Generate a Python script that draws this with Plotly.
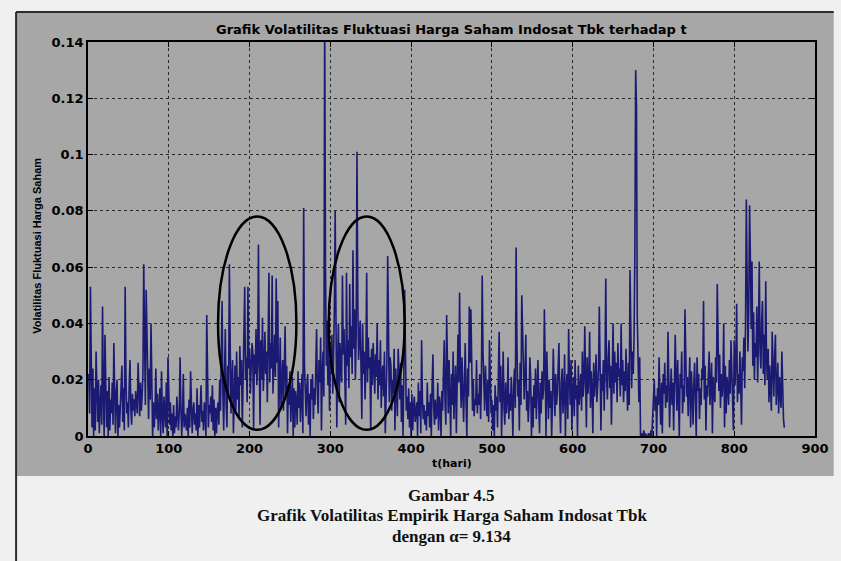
import plotly.graph_objects as go

# ---------------- data (volatility in units of 0.001) ----------------
vol_milli = [
    22, 8, 53, 12, 3, 24, 0, 17, 2, 30, 14, 5, 20, 1, 11, 18, 4, 46, 15, 0,
    36, 10, 3, 16, 0, 21, 2, 13, 8, 19, 4, 33, 12, 1, 15, 20, 0, 11, 3, 9,
    14, 25, 5, 17, 2, 53, 20, 8, 12, 3, 18, 27, 10, 4, 15, 9, 13, 7, 16, 10,
    8, 26, 12, 7, 19, 9, 14, 22, 61, 35, 11, 52, 30, 16, 6, 24, 13, 40, 18, 0,
    12, 3, 9, 24, 6, 15, 2, 11, 17, 0, 23, 8, 1, 14, 10, 3, 19, 0, 28, 9,
    4, 12, 2, 8, 0, 11, 1, 7, 3, 14, 6, 2, 9, 28, 10, 0, 7, 22, 3, 8,
    5, 2, 10, 0, 13, 3, 23, 7, 1, 9, 12, 4, 8, 2, 17, 0, 11, 3, 15, 18,
    5, 9, 2, 12, 7, 0, 43, 16, 3, 11, 8, 14, 5, 18, 2, 13, 0, 10, 1, 9,
    12, 4, 20, 9, 26, 48, 15, 2, 22, 38, 11, 3, 25, 14, 61, 30, 8, 19, 27, 1,
    16, 25, 9, 30, 13, 21, 6, 32, 18, 27, 3, 24, 35, 53, 20, 28, 12, 53, 24, 31,
    15, 26, 33, 30, 2, 29, 22, 38, 18, 25, 68, 27, 4, 34, 20, 42, 16, 25, 37, 22,
    30, 12, 28, 58, 19, 33, 24, 57, 15, 29, 36, 21, 56, 26, 48, 3, 31, 35, 10, 22,
    27, 9, 20, 39, 14, 25, 1, 18, 11, 23, 5, 15, 21, 0, 17, 3, 16, 12, 4, 23,
    10, 19, 5, 14, 22, 1, 81, 25, 12, 7, 18, 22, 4, 15, 0, 20, 13, 22, 6, 17,
    11, 24, 38, 15, 8, 27, 19, 35, 2, 22, 30, 14, 150, 60, 25, 41, 18, 33, 9, 27,
    22, 36, 15, 28, 45, 80, 30, 3, 26, 40, 12, 33, 24, 19, 57, 29, 38, 21, 4, 58,
    25, 34, 17, 54, 28, 39, 22, 66, 31, 45, 20, 36, 101, 48, 27, 35, 41, 24, 6, 40,
    22, 30, 13, 26, 58, 19, 35, 24, 28, 2, 31, 18, 33, 25, 15, 29, 21, 40, 13, 27,
    18, 34, 10, 22, 25, 14, 30, 1, 19, 26, 64, 23, 12, 28, 25, 9, 20, 15, 31, 2,
    24, 16, 7, 31, 20, 13, 26, 5, 18, 0, 22, 52, 30, 9, 14, 6, 17, 3, 12, 0,
    15, 2, 10, 14, 5, 8, 12, 0, 19, 7, 16, 1, 34, 13, 6, 11, 4, 9, 2, 19,
    7, 12, 3, 15, 0, 18, 29, 10, 4, 13, 6, 8, 19, 2, 14, 11, 0, 16, 9, 22,
    34, 12, 4, 43, 20, 8, 27, 15, 0, 22, 11, 30, 6, 17, 25, 1, 14, 36, 19, 51,
    22, 10, 28, 15, 5, 19, 33, 12, 0, 24, 14, 46, 26, 45, 18, 9, 20, 7, 13, 11,
    27, 8, 15, 11, 22, 6, 18, 57, 30, 14, 9, 25, 12, 7, 20, 5, 34, 16, 8, 13,
    2, 11, 0, 18, 9, 14, 3, 22, 37, 12, 25, 0, 16, 30, 10, 4, 19, 8, 13, 28,
    6, 15, 9, 21, 12, 0, 18, 24, 10, 67, 33, 14, 20, 2, 26, 11, 50, 35, 19, 13,
    22, 36, 9, 16, 5, 12, 28, 21, 0, 14, 3, 18, 10, 24, 6, 15, 27, 11, 1, 19,
    8, 23, 13, 17, 45, 25, 0, 30, 14, 6, 20, 10, 16, 0, 12, 31, 18, 7, 22, 11,
    15, 26, 33, 12, 1, 19, 24, 8, 14, 29, 0, 17, 22, 6, 38, 20, 11, 27, 2, 16,
    21, 7, 27, 13, 18, 0, 25, 11, 16, 22, 9, 30, 14, 19, 39, 24, 3, 28, 15, 20,
    37, 10, 23, 17, 1, 26, 14, 20, 29, 12, 18, 24, 46, 30, 2, 22, 16, 27, 9, 25,
    56, 20, 13, 28, 34, 17, 25, 4, 22, 40, 15, 30, 19, 26, 12, 33, 21, 24, 14, 40,
    18, 27, 12, 23, 16, 31, 20, 9, 26, 11, 59, 24, 17, 30, 22, 35, 65, 130, 117, 42,
    30, 12, 28, 0, 1, 0, 0, 2, 0, 1, 0, 0, 0, 1, 0, 0, 2, 0, 6, 15,
    20, 9, 14, 0, 17, 11, 28, 13, 4, 19, 1, 22, 15, 26, 10, 18, 12, 37, 21, 3,
    16, 24, 11, 19, 2, 14, 36, 20, 9, 27, 13, 0, 22, 17, 30, 8, 18, 12, 45, 25,
    14, 21, 7, 18, 28, 3, 23, 15, 4, 19, 26, 12, 0, 28, 16, 22, 6, 17, 11, 24,
    20, 48, 13, 25, 2, 18, 14, 22, 30, 11, 17, 26, 1, 21, 15, 12, 28, 19, 54, 24,
    16, 29, 10, 22, 14, 19, 40, 3, 25, 8, 21, 17, 11, 27, 15, 34, 20, 13, 2, 34,
    18, 26, 47, 12, 22, 15, 30, 19, 4, 28, 23, 35, 17, 40, 84, 55, 30, 45, 82, 63,
    38, 62, 25, 44, 20, 33, 28, 46, 19, 35, 62, 30, 24, 41, 48, 22, 36, 18, 55, 27,
    20, 31, 12, 25, 17, 9, 37, 22, 14, 28, 36, 11, 19, 26, 8, 21, 15, 10, 30, 16,
    6, 3,
]
days = list(range(1, len(vol_milli) + 1))
volatility = [v / 1000.0 for v in vol_milli]

x_ticks = [0, 100, 200, 300, 400, 500, 600, 700, 800, 900]
y_ticks = [0, 0.02, 0.04, 0.06, 0.08, 0.1, 0.12, 0.14]
y_tick_text = ["0", "0.02", "0.04", "0.06", "0.08", "0.1", "0.12", "0.14"]

# highlighted windows (t range, volatility range)
ellipse_t = [(161, 258), (298, 392)]
ellipse_v = [(0.0022, 0.078), (0.0022, 0.078)]

title_text = "Grafik Volatilitas Fluktuasi Harga Saham Indosat Tbk terhadap t"
ylabel_text = "Volatilitas Fluktuasi Harga Saham"
xlabel_text = "t(hari)"
caption_lines = [
    "Gambar 4.5",
    "Grafik Volatilitas Empirik Harga Saham Indosat Tbk",
    "dengan \u03b1= 9.134",
]

# ---------------- layout geometry ----------------
W, H = 841, 561
L, R, T, B = 88, 15, 42, 125
PW, PH = W - L - R, H - T - B


def pxx(x):
    return (x - L) / PW


def pyy(y):
    return (H - B - y) / PH


FIG_GRAY = "#a7a7a7"
LIGHT = "#f0f0f0"
LINE_COL = "#1a1a72"
sans_bold = dict(family="DejaVu Sans", size=13, color="#000000", weight="bold")

fig = go.Figure()
fig.add_trace(go.Scatter(
    x=days, y=volatility, mode="lines",
    line=dict(color=LINE_COL, width=1.6),
    hoverinfo="skip", showlegend=False,
))

shapes = [
    dict(type="rect", xref="paper", yref="paper",
         x0=pxx(15), x1=pxx(845), y0=pyy(476), y1=pyy(12),
         fillcolor=FIG_GRAY, line=dict(width=0), layer="below"),
    dict(type="line", xref="paper", yref="paper",
         x0=pxx(15), x1=pxx(15), y0=pyy(12), y1=pyy(565),
         line=dict(color="#2b2b2b", width=2), layer="above"),
    dict(type="line", xref="paper", yref="paper",
         x0=pxx(15), x1=pxx(845), y0=pyy(12), y1=pyy(12),
         line=dict(color="#2b2b2b", width=2), layer="above"),
]
for (t0, t1), (v0, v1) in zip(ellipse_t, ellipse_v):
    shapes.append(dict(type="circle", xref="x", yref="y",
                       x0=t0, x1=t1, y0=v0, y1=v1,
                       line=dict(color="#000000", width=2.5), layer="above"))

annotations = [
    dict(text=title_text, x=0.5, y=pyy(30), xref="paper", yref="paper",
         showarrow=False, xanchor="center", yanchor="middle",
         font=dict(family="DejaVu Sans", size=13, color="#000", weight="bold")),
    dict(text=ylabel_text, x=pxx(36), y=pyy(246), xref="paper", yref="paper",
         showarrow=False, textangle=-90, xanchor="center", yanchor="middle",
         font=dict(family="Liberation Sans", size=11, color="#000", weight="bold")),
    dict(text=xlabel_text, x=0.5, y=pyy(463), xref="paper", yref="paper",
         showarrow=False, xanchor="center", yanchor="middle",
         font=dict(family="DejaVu Sans", size=11, color="#000", weight="bold")),
]
for i, line in enumerate(caption_lines):
    annotations.append(dict(
        text=line, x=0.5, y=pyy(495 + 20.5 * i), xref="paper", yref="paper",
        showarrow=False, xanchor="center", yanchor="middle",
        font=dict(family="Liberation Serif", size=17, color="#111", weight="bold")))

axis_common = dict(
    showline=True, linecolor="#000000", linewidth=1.5, mirror="ticks",
    ticks="inside", ticklen=5, tickwidth=1, tickcolor="#000000",
    showgrid=True, gridcolor="#2a2a2a", gridwidth=1, griddash="dot",
    zeroline=False, tickfont=sans_bold,
)

fig.update_layout(
    width=W, height=H,
    margin=dict(l=L, r=R, t=T, b=B, pad=0),
    paper_bgcolor=LIGHT, plot_bgcolor=FIG_GRAY,
    xaxis=dict(range=[0, 900], tickvals=x_ticks, ticktext=[str(v) for v in x_ticks], **axis_common),
    yaxis=dict(range=[0, 0.14], tickvals=y_ticks, ticktext=y_tick_text, **axis_common),
    shapes=shapes, annotations=annotations, showlegend=False,
)

fig.write_html("out.html", config={"displayModeBar": False})
